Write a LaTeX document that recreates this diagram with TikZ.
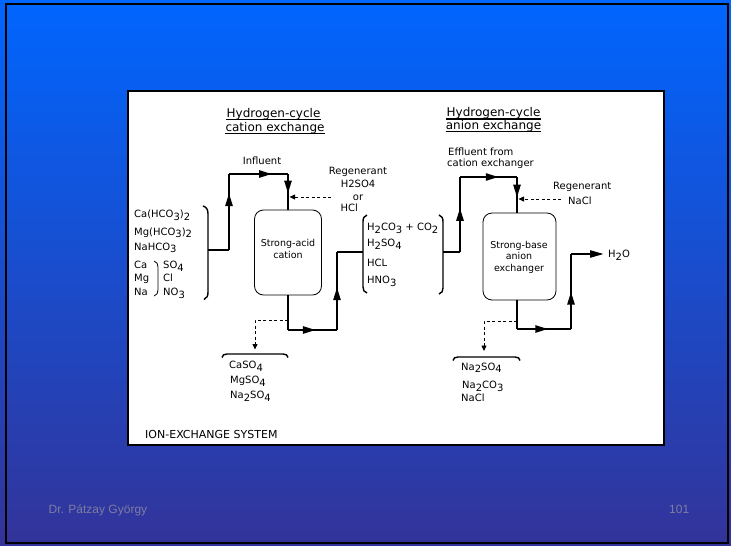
\documentclass[tikz,border=0pt]{standalone}
\usepackage{fontspec}
\setmainfont{DejaVu Sans}
\newfontfamily\footfont{Liberation Sans}
\usetikzlibrary{arrows.meta,decorations.markings}
\newcommand{\lowr}[1]{\raisebox{-2.5pt}{#1}}
\definecolor{topblue}{RGB}{0,102,255}
\definecolor{botblue}{RGB}{51,51,153}
\definecolor{footgray}{RGB}{125,125,160}
\begin{document}
\begin{tikzpicture}[x=1pt,y=-1pt,
  flow/.style={line width=2.4pt},
  dflow/.style={line width=0.8pt,dash pattern=on 3pt off 2.5pt},
  ma/.style={postaction={decorate,decoration={markings,mark=at position #1 with {\arrow{Triangle[length=13pt,width=7pt]}}}}},
  endtip/.style={-{Triangle[length=14pt,width=7pt]}},
  dtip/.style={-{Triangle[length=5.5pt,width=5pt]}},
  brk/.style={line width=1.4pt},
  lbl/.style={inner sep=0pt,font=\fontsize{10}{12}\selectfont},
  ttl/.style={inner sep=0pt,font=\fontsize{12}{14}\selectfont},
  vessel/.style={draw,line width=0.8pt,rounded corners=9pt,fill=white}
]
\useasboundingbox (0,0) rectangle (731,546);
% background
\shade[top color=topblue,bottom color=botblue] (0,0) rectangle (731,546);
\draw[line width=2pt] (6,4) rectangle (728,543);
\draw[fill=white,line width=2pt] (128,91) rectangle (664,445);

% titles
\node[ttl,anchor=base] (t1a) at (273.5,117.4) {Hydrogen-cycle};
\node[ttl,anchor=base] (t1b) at (275,131.4) {cation exchange};
\node[ttl,anchor=base] (t2a) at (493.5,116.8) {Hydrogen-cycle};
\node[ttl,anchor=base] (t2b) at (493.5,129.6) {anion exchange};
\foreach \n in {t1a,t1b,t2a,t2b}
  \draw[line width=1.5pt] ([yshift=-2pt]\n.base west) -- ([yshift=-2pt]\n.base east);

% vessels
\node[vessel,minimum width=67pt,minimum height=85pt] (v1) at (288,252.5) {};
\node[lbl,align=center,font=\fontsize{9.5}{11.5}\selectfont] (v1t) at (288,249) {Strong-acid\\cation};
\node[vessel,minimum width=73pt,minimum height=87pt] (v2) at (519.5,256.5) {};
\node[lbl,align=center,font=\fontsize{9.5}{11.5}\selectfont] (v2t) at (519,257) {Strong-base\\anion\\exchanger};

% left group texts
\node[lbl,anchor=base west] (l1) at (134,217.6) {Ca(HCO\lowr{3})\lowr{2}};
\node[lbl,anchor=base west] (l2) at (134,235.3) {Mg(HCO\lowr{3})\lowr{2}};
\node[lbl,anchor=base west] (l3) at (134,250.2) {NaHCO\lowr{3}};
\node[lbl,anchor=base west] (l4) at (134,268.6) {Ca};
\node[lbl,anchor=base west] (l5) at (134,281.2) {Mg};
\node[lbl,anchor=base west] (l6) at (134,295.6) {Na};
\node[lbl,anchor=base west] (l7) at (163,268.6) {SO\lowr{4}};
\node[lbl,anchor=base west] (l8) at (163,281.2) {Cl};
\node[lbl,anchor=base west] (l9) at (163,295.6) {NO\lowr{3}};
\draw[line width=0.8pt] (154,261) .. controls (157,262) and (158,264) .. (158,267) -- (158,290) .. controls (158,293) and (157,295) .. (154,296);
\draw[brk] (203,206) .. controls (206.5,207) and (208,209.5) .. (208,214) -- (208,292) .. controls (208,296) and (207,298) .. (204,299.5);

% influent / regenerant texts
\node[lbl,anchor=base] (inf) at (262,164.6) {Influent};
\node[lbl,anchor=base] (rg1) at (358,174.6) {Regenerant};
\node[lbl,anchor=base] (rg2) at (358,187.6) {H2SO4};
\node[lbl,anchor=base] (rg3) at (358,200.6) {or};
\node[lbl,anchor=base west] (rg4) at (340.5,211.6) {HCl};

% cation flow
\coordinate (a0) at (208,250);
\coordinate (a1) at (229,250);
\coordinate (a2) at (229,174);
\coordinate (a3) at (288,174);
\draw[flow] (a0) -- (a1);
\draw[flow,ma=0.75] (a1) -- (a2);
\draw[flow,ma=0.73] (a2) -- (a3);
\draw[flow,ma=0.55] (a3) -- (v1.north);
\coordinate (r1) at (331,197);
\coordinate (r1e) at (289.5,197);
\draw[dflow,dtip] (r1) -- (r1e);

\coordinate (b1) at (288,330);
\coordinate (b2) at (337,330);
\coordinate (b3) at (337,252);
\coordinate (b4) at (363,252);
\draw[flow] (v1.south) -- (b1);
\draw[flow,ma=0.57] (b1) -- (b2);
\draw[flow,ma=0.55] (b2) -- (b3);
\draw[flow] (b3) -- (b4);

\coordinate (d1) at (288,320);
\coordinate (d2) at (255,320);
\coordinate (d3) at (255,349.5);
\draw[dflow,dtip] (d1) -- (d2) -- (d3);
\draw[brk] (222,357.5) .. controls (222.5,355) and (224,354) .. (227,354) -- (283,354) .. controls (286,354) and (287.5,355) .. (288,357.5);
\node[lbl,anchor=base west] (p1) at (229,368.6) {CaSO\lowr{4}};
\node[lbl,anchor=base west] (p2) at (230,383.6) {MgSO\lowr{4}};
\node[lbl,anchor=base west] (p3) at (230,398.6) {Na\lowr{2}SO\lowr{4}};

% middle group
\draw[brk] (367,215) .. controls (364,216) and (363,218) .. (363,222) -- (363,287) .. controls (363,290) and (364,292) .. (367,293);
\draw[brk] (439,215) .. controls (442,216) and (443,218) .. (443,222) -- (443,288) .. controls (443,291) and (442,293) .. (439,294);
\node[lbl,anchor=base west] (m1) at (367,230.6) {H\lowr{2}CO\lowr{3} + CO\lowr{2}};
\node[lbl,anchor=base west] (m2) at (367,246.6) {H\lowr{2}SO\lowr{4}};
\node[lbl,anchor=base west] (m3) at (367,266) {HCL};
\node[lbl,anchor=base west] (m4) at (367,283.5) {HNO\lowr{3}};

% anion flow texts
\node[lbl,anchor=base west] (ef1) at (448,155.6) {Effluent from};
\node[lbl,anchor=base west] (ef2) at (447,166.6) {cation exchanger};
\node[lbl,anchor=base west] (rn1) at (553,189.6) {Regenerant};
\node[lbl,anchor=base west] (rn2) at (568,204.6) {NaCl};
\node[lbl,anchor=base west] (h2o) at (608,257.6) {H\lowr{2}O};

% anion flow
\coordinate (c0) at (443,252);
\coordinate (c1) at (460,252);
\coordinate (c2) at (460,177);
\coordinate (c3) at (517,177);
\draw[flow] (c0) -- (c1);
\draw[flow,ma=0.59] (c1) -- (c2);
\draw[flow,ma=0.68] (c2) -- (c3);
\draw[flow,ma=0.58] (c3) -- (c3 |- v2.north);
\coordinate (n1) at (561,199);
\coordinate (n1e) at (518.5,199);
\draw[dflow,dtip] (n1) -- (n1e);

\coordinate (e1) at (517,329);
\coordinate (e2) at (571,329);
\coordinate (e3) at (571,254);
\coordinate (e4) at (604,254);
\draw[flow] (c3 |- v2.south) -- (e1);
\draw[flow,ma=0.58] (e1) -- (e2);
\draw[flow,ma=0.5] (e2) -- (e3);
\draw[flow,endtip] (e3) -- (e4);

\coordinate (f1) at (517,321);
\coordinate (f2) at (484,321);
\coordinate (f3) at (484,351);
\draw[dflow,dtip] (f1) -- (f2) -- (f3);
\draw[brk] (453,360.5) .. controls (453.5,358) and (455,357) .. (458,357) -- (515,357) .. controls (518,357) and (519.5,358) .. (520,360.5);
\node[lbl,anchor=base west] (q1) at (461,370.3) {Na\lowr{2}SO\lowr{4}};
\node[lbl,anchor=base west] (q2) at (462,388.6) {Na\lowr{2}CO\lowr{3}};
\node[lbl,anchor=base west] (q3) at (461,401.3) {NaCl};

\node[lbl,anchor=base west,font=\fontsize{11}{13}\selectfont] (sys) at (145,438) {ION-EXCHANGE SYSTEM};

% footer
\node[inner sep=0pt,anchor=base west,font=\footfont\fontsize{12}{14}\selectfont,text=footgray] (auth) at (48.5,513.5) {Dr. Pátzay György};
\node[inner sep=0pt,anchor=base west,font=\footfont\fontsize{12}{14}\selectfont,text=footgray] (pg) at (669,513.5) {101};
\end{tikzpicture}
\end{document}
